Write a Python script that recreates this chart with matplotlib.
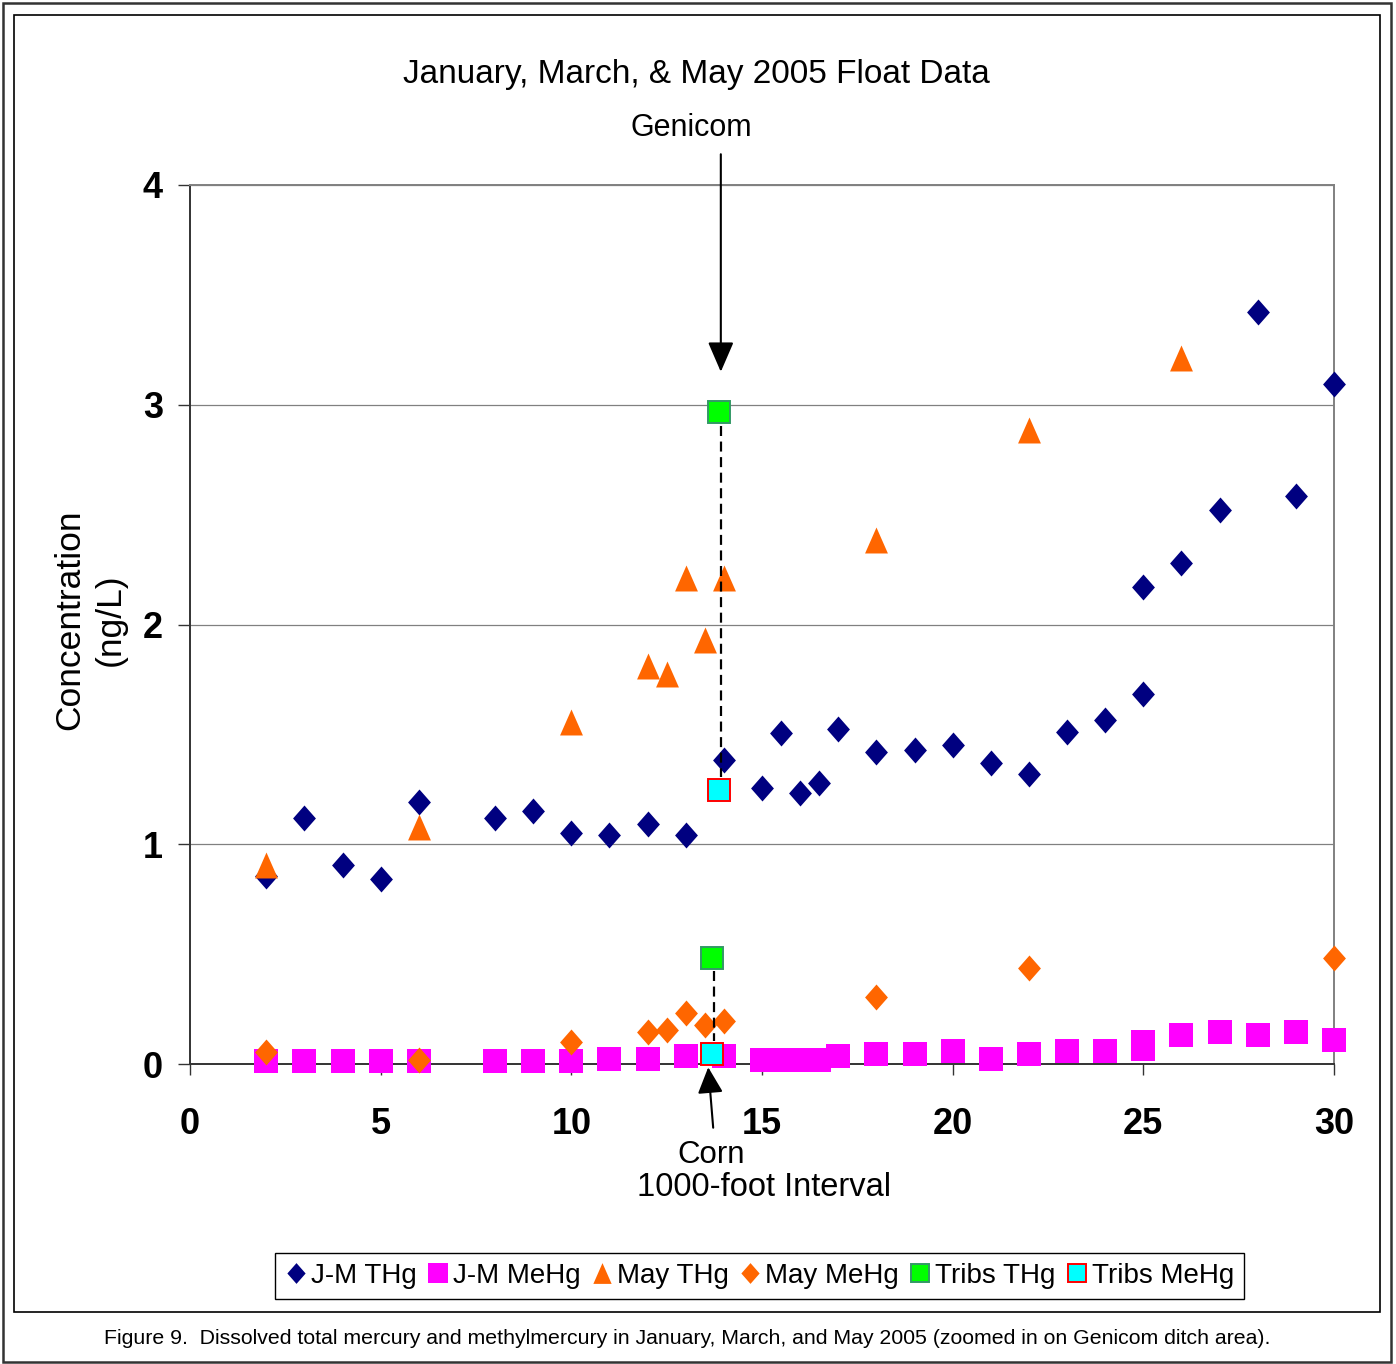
import matplotlib
matplotlib.use('Agg')
import matplotlib.pyplot as plt
from matplotlib.path import Path
from matplotlib.patches import Rectangle

plt.rcParams['font.family'] = ['Liberation Sans', 'DejaVu Sans']

# J-M (January/March) total mercury
jm_thg_x = [2, 3, 4, 5, 6, 8, 9, 10, 11, 12, 13, 14, 15, 15.5, 16, 16.5, 17, 18, 19, 20,
            21, 22, 23, 24, 25, 25, 26, 27, 28, 29, 30]
jm_thg_y = [0.855, 1.12, 0.905, 0.84, 1.19, 1.12, 1.15, 1.05, 1.04, 1.09, 1.04, 1.383, 1.256,
            1.506, 1.233, 1.279, 1.524, 1.42, 1.43, 1.45, 1.37, 1.32, 1.51, 1.565, 1.684, 2.17,
            2.28, 2.52, 3.42, 2.585, 3.094]

# J-M methylmercury
jm_mehg_x = [2, 3, 4, 5, 6, 8, 9, 10, 11, 12, 13, 14, 15, 15.5, 16, 16.5, 17, 18, 19, 20,
             21, 22, 23, 24, 25, 25, 26, 27, 28, 29, 30]
jm_mehg_y = [0.015, 0.015, 0.015, 0.015, 0.015, 0.015, 0.015, 0.015, 0.023, 0.023, 0.036, 0.036,
             0.02, 0.02, 0.02, 0.02, 0.038, 0.044, 0.044, 0.059, 0.023, 0.045, 0.059, 0.059,
             0.068, 0.098, 0.132, 0.145, 0.132, 0.145, 0.109]

# May total mercury and methylmercury
may_thg_x = [2, 6, 10, 12, 12.5, 13, 13.5, 14, 18, 22, 26]
may_thg_y = [0.906, 1.078, 1.556, 1.81, 1.775, 2.21, 1.93, 2.21, 2.385, 2.885, 3.213]
may_mehg_x = [2, 6, 10, 12, 12.5, 13, 13.5, 14, 18, 22, 30]
may_mehg_y = [0.056, 0.018, 0.10, 0.145, 0.155, 0.23, 0.178, 0.197, 0.306, 0.437, 0.482]

# tributary samples: Genicom ditch, Corn
tribs_x = [13.87, 13.69]
tribs_thg = [2.965, 0.482]
tribs_mehg = [1.245, 0.046]

x_ticks = [0, 5, 10, 15, 20, 25, 30]
y_ticks = [0, 1, 2, 3, 4]

diamond = Path([(0, 1), (0.88, 0), (0, -1), (-0.88, 0), (0, 1)],
               [Path.MOVETO, Path.LINETO, Path.LINETO, Path.LINETO, Path.CLOSEPOLY])
triangle = Path([(0, 1), (0.88, -1), (-0.88, -1), (0, 1)],
                [Path.MOVETO, Path.LINETO, Path.LINETO, Path.CLOSEPOLY])

fig = plt.figure(figsize=(13.96, 13.64), dpi=100)
ax = fig.add_axes([190 / 1396, 1 - 1064 / 1364, 1144 / 1396, 879 / 1364])

kw = dict(linestyle='none', clip_on=False, zorder=3)
ax.plot(jm_thg_x, jm_thg_y, marker=diamond, ms=18.7, color='#000080', mew=0, label='J-M THg', **kw)
ax.plot(jm_mehg_x, jm_mehg_y, marker='s', ms=17.3, color='#FF00FF', mew=0, label='J-M MeHg', **kw)
ax.plot(may_thg_x, may_thg_y, marker=triangle, ms=18.7, color='#FF6600', mew=0, label='May THg', **kw)
ax.plot(may_mehg_x, may_mehg_y, marker=diamond, ms=18.7, color='#FF6600', mew=0, label='May MeHg', **kw)
ax.plot(tribs_x, tribs_thg, marker='s', ms=16.5, mfc='#00FF00', mec='#339966', mew=1.4,
        label='Tribs THg', **kw)
ax.plot(tribs_x, tribs_mehg, marker='s', ms=16.5, mfc='#00FFFF', mec='#FF0000', mew=1.4,
        label='Tribs MeHg', **kw)

# dashed links between tributary THg and MeHg
for tx, thg, mehg in zip(tribs_x, tribs_thg, tribs_mehg):
    ax.plot([tx + 0.05, tx + 0.05], [thg - 0.06, mehg + 0.06], color='black', lw=1.6,
            linestyle=(0, (4.5, 2.5)), zorder=4, clip_on=False)

ax.annotate('', xy=(13.92, 3.15), xytext=(13.92, 4.14),
            arrowprops=dict(arrowstyle='-|>,head_length=1.85,head_width=0.8', color='black',
                            lw=1.5, shrinkA=0, shrinkB=0),
            annotation_clip=False, zorder=5)
ax.annotate('', xy=(13.59, -0.015), xytext=(13.72, -0.29),
            arrowprops=dict(arrowstyle='-|>,head_length=1.6,head_width=0.78', color='black',
                            lw=1.5, shrinkA=0, shrinkB=0),
            annotation_clip=False, zorder=5)
ax.text(13.14, 4.26, 'Genicom', fontsize=22, ha='center', va='center')
ax.text(13.66, -0.415, 'Corn', fontsize=22.5, ha='center', va='center')

ax.set_xlim(0, 30)
ax.set_ylim(0, 4)
ax.set_xticks(x_ticks)
ax.set_yticks(y_ticks)
ax.set_xticklabels([str(v) for v in x_ticks], fontsize=26, fontweight='bold')
ax.set_yticklabels([str(v) for v in y_ticks], fontsize=26, fontweight='bold')
ax.tick_params(axis='x', direction='out', length=8, width=1, pad=23, color='#333333')
ax.tick_params(axis='y', direction='out', length=8.6, width=1, pad=11, color='#333333')

ax.grid(axis='y', color='#808080', lw=0.9)
ax.set_axisbelow(True)
for side in ['top', 'right']:
    ax.spines[side].set_color('#808080')
    ax.spines[side].set_linewidth(1.4)
for side in ['left', 'bottom']:
    ax.spines[side].set_color('#333333')
    ax.spines[side].set_linewidth(1.4)

ax.set_xlabel('1000-foot Interval', fontsize=23.5)
ax.xaxis.label.set_va('center')
ax.xaxis.set_label_coords((764 - 190) / 1144, (1064 - 1188) / 879)
ax.set_ylabel('Concentration\n(ng/L)', fontsize=25.5, linespacing=1.3)
ax.yaxis.label.set_va('center')
ax.yaxis.set_label_coords((90 - 190) / 1144, (1064 - 620) / 879)

fig.text(696 / 1396, 1 - 75 / 1364, 'January, March, & May 2005 Float Data', fontsize=24,
         ha='center', va='center')

leg = fig.legend(loc='center', bbox_to_anchor=(759.5 / 1396, 1 - 1276 / 1364), ncol=6,
                 fontsize=20, markerscale=0.8, numpoints=1, handlelength=0.8,
                 handletextpad=0.15, columnspacing=0.36, borderpad=0.35, fancybox=False,
                 framealpha=1, edgecolor='black')
leg.get_frame().set_linewidth(1.0)

# chart area and page borders
fig.patches.append(Rectangle((14 / 1396, 1 - 1312 / 1364), 1366 / 1396, 1297 / 1364,
                             transform=fig.transFigure, fill=False, ec='black', lw=1.2))
fig.patches.append(Rectangle((3 / 1396, 1 - 1362 / 1364), 1388 / 1396, 1359 / 1364,
                             transform=fig.transFigure, fill=False, ec='#333333', lw=1.8))

fig.text(687 / 1396, 1 - 1338 / 1364,
         'Figure 9.  Dissolved total mercury and methylmercury in January, March, and May 2005 '
         '(zoomed in on Genicom ditch area).', fontsize=15.3, ha='center', va='center')

fig.savefig('out.png', dpi=100)
